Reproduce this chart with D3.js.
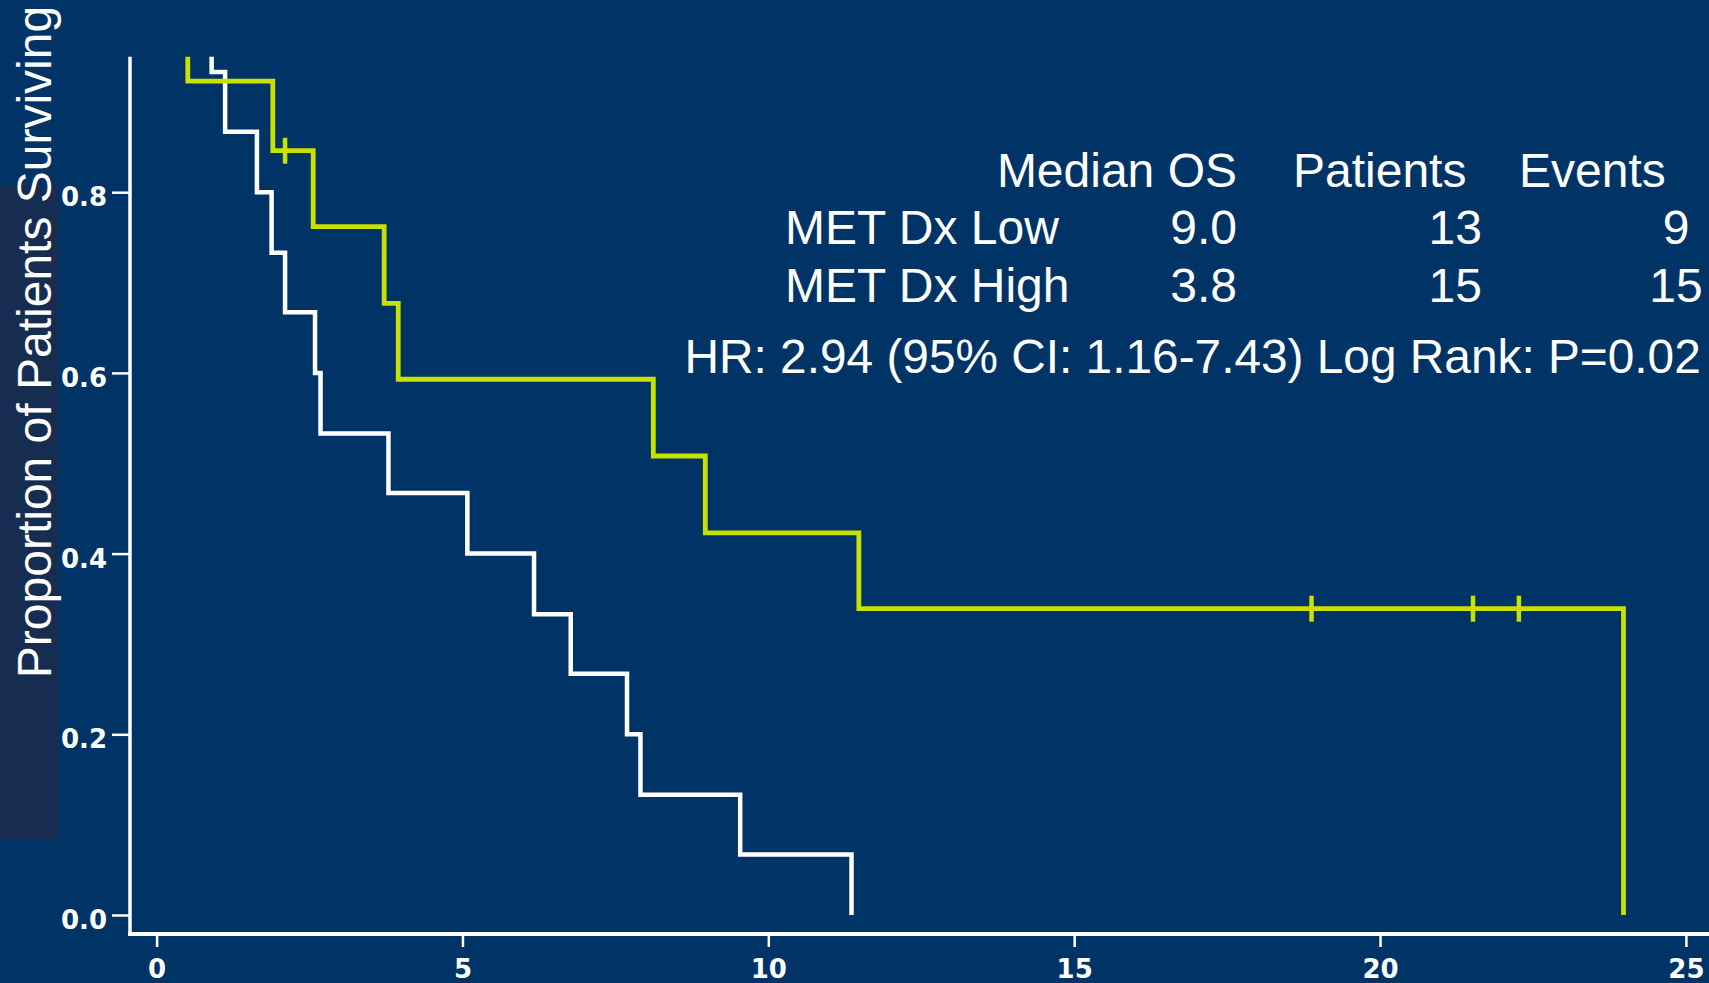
<!DOCTYPE html>
<html>
<head>
<meta charset="utf-8">
<script src="https://cdn.jsdelivr.net/npm/d3@7"></script>
<style>
    body { margin: 0; background: #003366; }
    svg { display: block; }
    .axis .tick text {
        font-family: "DejaVu Sans", sans-serif;
        font-weight: bold;
        font-size: 26px;
        fill: #ffffff;
    }
    .axis .tick line { stroke: #ffffff; stroke-width: 2.5px; }
    .label {
        font-family: "Liberation Sans", Arial, Helvetica, sans-serif;
        fill: #ffffff;
    }
</style>
</head>
<body>
<svg id="km-chart"></svg>
<script>
// MET Dx Low: event times (months) and KM estimate after each step
const lowTimes = [0, 0.51, 1.90, 2.56, 3.72, 3.95, 8.12, 8.97, 11.48, 23.98];
const lowSurv = [1, 0.923, 0.846, 0.762, 0.677, 0.593, 0.508, 0.423, 0.339, 0];
const lowCensorTimes = [2.10, 18.88, 21.52, 22.27];
const lowCensorSurv = [0.846, 0.339, 0.339, 0.339];

// MET Dx High
const highTimes = [0, 0.90, 1.12, 1.64, 1.88, 2.10, 2.59, 2.68, 3.79, 5.08, 6.17, 6.77, 7.69, 7.91, 9.54, 11.36];
const highSurv = [1, 0.933, 0.867, 0.800, 0.733, 0.667, 0.600, 0.533, 0.467, 0.400, 0.333, 0.267, 0.200, 0.133, 0.067, 0];

const xTicks = [0, 5, 10, 15, 20, 25];
const yTicks = [0, 0.2, 0.4, 0.6, 0.8];
const yMaxShown = 0.95;

const tableHeaders = ["Median OS", "Patients", "Events"];
const groupNames = ["MET Dx Low", "MET Dx High"];
const medianOS = ["9.0", "3.8"];
const patients = [13, 15];
const events = [9, 15];
const statsLine = "HR: 2.94 (95% CI: 1.16-7.43) Log Rank: P=0.02";
const yLabel = "Proportion of Patients Surviving";

const totalWidth = 1709,
    totalHeight = 983;

const colors = {
    low: "#c8e100",
    high: "#ffffff",
    band: "#162d51"
};

const svg = d3
    .select("#km-chart")
    .attr("width", totalWidth)
    .attr("height", totalHeight);

const x = d3.scaleLinear().domain([0, 25]).range([156.6, 1685.9]),
    y = d3.scaleLinear().domain([0, 1]).range([915, 11.5]);

const axisX = 130, // position of the y axis line
    axisY = 934; // position of the x axis line

// dark band behind the y label
svg.append("rect")
    .attr("x", 0)
    .attr("y", 185)
    .attr("width", 59)
    .attr("height", 655)
    .attr("fill", colors.band);

svg.append("text")
    .attr("class", "label")
    .attr("transform", "translate(51," + 342 + ") rotate(-90)")
    .style("text-anchor", "middle")
    .style("font-size", "48px")
    .text(yLabel);

// clip curves to the top of the y axis
svg.append("clipPath")
    .attr("id", "plot-clip")
    .append("rect")
    .attr("x", axisX)
    .attr("y", y(yMaxShown))
    .attr("width", totalWidth - axisX)
    .attr("height", axisY - y(yMaxShown));

// Y axis
const gy = svg.append("g")
    .attr("class", "axis axis-y")
    .attr("transform", "translate(" + axisX + ",0)")
    .call(
        d3.axisLeft(y)
            .tickValues(yTicks)
            .tickSize(18)
            .tickPadding(5)
            .tickFormat(d3.format(".1f"))
    );
gy.select(".domain").remove();
gy.selectAll(".tick text").attr("dy", "0.52em");

// X axis
const gx = svg.append("g")
    .attr("class", "axis axis-x")
    .attr("transform", "translate(0," + axisY + ")")
    .call(
        d3.axisBottom(x)
            .tickValues(xTicks)
            .tickSize(13)
            .tickPadding(12.5)
    );
gx.select(".domain").remove();

// axis lines
svg.append("line")
    .attr("x1", axisX)
    .attr("x2", axisX)
    .attr("y1", y(yMaxShown))
    .attr("y2", axisY + 2)
    .attr("stroke", "#ffffff")
    .attr("stroke-width", 3.5);
svg.append("line")
    .attr("x1", axisX - 2)
    .attr("x2", totalWidth)
    .attr("y1", axisY)
    .attr("y2", axisY)
    .attr("stroke", "#ffffff")
    .attr("stroke-width", 4);

// KM step curves
const line = d3
    .line()
    .curve(d3.curveStepAfter)
    .x(d => x(d[0]))
    .y(d => y(d[1]));

const curves = [
    { id: "high", pts: d3.zip(highTimes, highSurv), color: colors.high, width: 4.5 },
    { id: "low", pts: d3.zip(lowTimes, lowSurv), color: colors.low, width: 4.8 }
];

const plot = svg.append("g").attr("clip-path", "url(#plot-clip)");

plot.selectAll(".graph-line")
    .data(curves)
    .enter()
    .append("path")
    .attr("class", "graph-line")
    .attr("d", d => line(d.pts))
    .attr("fill", "none")
    .attr("stroke", d => d.color)
    .attr("stroke-width", d => d.width)
    .attr("stroke-linejoin", "miter");

// censor marks
plot.selectAll(".censor")
    .data(d3.zip(lowCensorTimes, lowCensorSurv))
    .enter()
    .append("line")
    .attr("class", "censor")
    .attr("x1", d => x(d[0]))
    .attr("x2", d => x(d[0]))
    .attr("y1", d => y(d[1]) - 13)
    .attr("y2", d => y(d[1]) + 13)
    .attr("stroke", colors.low)
    .attr("stroke-width", 4.5);

// summary table
const table = svg.append("g")
    .attr("class", "label")
    .style("font-size", "48px");

const headerY = 187,
    rowY = [244, 301.5];

table.append("text")
    .attr("x", 1237)
    .attr("y", headerY)
    .style("text-anchor", "end")
    .text(tableHeaders[0]);
table.append("text")
    .attr("x", 1293)
    .attr("y", headerY)
    .text(tableHeaders[1]);
table.append("text")
    .attr("x", 1519)
    .attr("y", headerY)
    .text(tableHeaders[2]);

groupNames.forEach((name, i) => {
    table.append("text")
        .attr("x", 785)
        .attr("y", rowY[i])
        .text(name);
    table.append("text")
        .attr("x", 1237)
        .attr("y", rowY[i])
        .style("text-anchor", "end")
        .text(medianOS[i]);
    table.append("text")
        .attr("x", 1482)
        .attr("y", rowY[i])
        .style("text-anchor", "end")
        .text(patients[i]);
    table.append("text")
        .attr("x", 1676)
        .attr("y", rowY[i])
        .style("text-anchor", "middle")
        .text(events[i]);
});

svg.append("text")
    .attr("class", "label")
    .attr("x", 684.5)
    .attr("y", 373)
    .style("font-size", "47.8px")
    .text(statsLine);
</script>
</body>
</html>
